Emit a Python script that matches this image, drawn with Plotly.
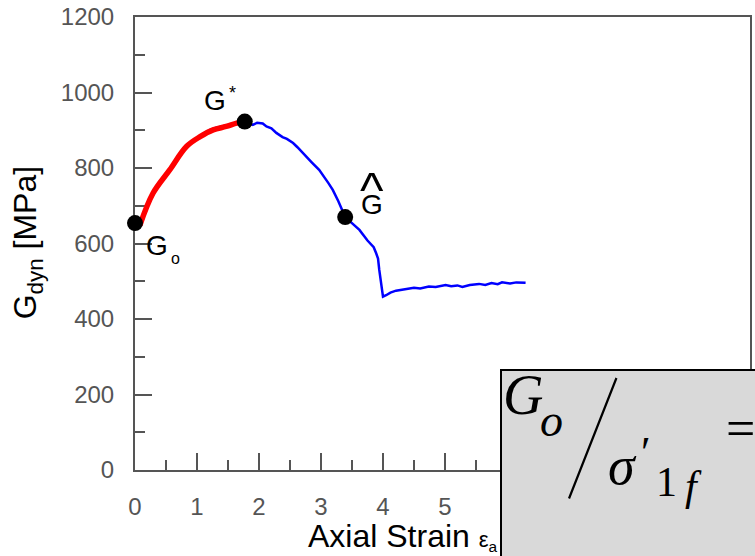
import plotly.graph_objects as go

# ---- data ----
strain_blue = [0.00, 0.08, 0.29, 0.56, 0.83, 1.05, 1.20, 1.30, 1.45, 1.60, 1.77, 1.85, 1.90, 1.97, 2.06,
               2.12, 2.20, 2.28, 2.38, 2.45, 2.55, 2.62, 2.70, 2.76, 2.85, 2.97, 3.05, 3.12, 3.19, 3.28,
               3.39, 3.50, 3.62, 3.75, 3.85, 3.89, 3.92, 3.94, 3.97, 4.00, 4.05, 4.12, 4.21, 4.30, 4.40,
               4.50, 4.60, 4.74, 4.85, 5.01, 5.10, 5.20, 5.28, 5.40, 5.55, 5.65, 5.75, 5.85, 5.92, 6.05,
               6.15, 6.30]
gdyn_blue = [650, 652, 733, 797, 858, 885, 900, 906, 913, 918, 923, 918, 914, 920, 918,
             910, 905, 893, 882, 877, 866, 855, 842, 830, 815, 795, 778, 760, 742, 712,
             670, 653, 636, 608, 590, 574, 560, 530, 490, 459, 463, 470, 475, 478, 480,
             483, 481, 486, 485, 490, 487, 489, 485, 490, 493, 490, 495, 492, 497, 494,
             497, 496]

strain_red = [0.08, 0.29, 0.56, 0.83, 1.05, 1.26, 1.47, 1.64, 1.72]
gdyn_red = [649, 733, 795, 857, 883, 901, 910, 919, 921]

strain_pts = [0.0, 1.77, 3.39]
gdyn_pts = [654, 923, 670]

x_ticks = [0, 1, 2, 3, 4, 5, 6, 7, 8, 9]
y_ticks = [0, 200, 400, 600, 800, 1000, 1200]

# ---- layout geometry (pixels) ----
W, H = 755, 556
L, R, T, B = 135, 3, 17, 86
PW, PH = W - L - R, H - T - B


def px(xp):
    return (xp - L) / PW


def py(yp):
    return (H - B - yp) / PH


SANS = "Liberation Sans, Arial, sans-serif"
SERIF = "Liberation Serif, Times New Roman, serif"
AX = "#555555"

fig = go.Figure()
fig.add_trace(go.Scatter(x=strain_blue, y=gdyn_blue, mode="lines",
                         line=dict(color="#0000ff", width=2.5), hoverinfo="skip"))
fig.add_trace(go.Scatter(x=strain_red, y=gdyn_red, mode="lines",
                         line=dict(color="#ff0000", width=5.5, shape="spline"), hoverinfo="skip"))
fig.add_trace(go.Scatter(x=strain_pts, y=gdyn_pts, mode="markers",
                         marker=dict(color="black", size=16), cliponaxis=False, hoverinfo="skip"))

axis_common = dict(showgrid=False, zeroline=False, showline=True, linecolor=AX, linewidth=2,
                   mirror=True, ticks="inside", tickcolor=AX, tickwidth=2, ticklen=17,
                   layer="below traces",
                   tickfont=dict(family=SANS, size=24, color=AX))

fig.update_xaxes(range=[0, PW / 62.2], tickvals=x_ticks, ticktext=[str(v) for v in x_ticks],
                 minor=dict(dtick=0.5, ticks="inside", ticklen=10, tickwidth=2, tickcolor=AX),
                 ticklabelstandoff=14, **axis_common)
fig.update_yaxes(range=[0, 1200], tickvals=y_ticks, ticktext=[str(v) for v in y_ticks],
                 minor=dict(dtick=100, ticks="inside", ticklen=10, tickwidth=2, tickcolor=AX),
                 ticklabelstandoff=14, **axis_common)

ann = []
# axis titles
ann.append(dict(x=px(307), y=py(536), xref="paper", yref="paper", xanchor="left", yanchor="middle",
                text="Axial Strain <span style='font-size:22px'>ε<sub>a</sub></span>",
                font=dict(family=SANS, size=32, color="black"), showarrow=False))
ann.append(dict(x=px(27), y=py(243), xref="paper", yref="paper", xanchor="center", yanchor="middle",
                text="G<sub>dyn</sub> [MPa]", textangle=-90,
                font=dict(family=SANS, size=32, color="black"), showarrow=False))
# point labels
lab = dict(xref="paper", yref="paper", xanchor="center", yanchor="middle", showarrow=False)
ann.append(dict(x=px(215.5), y=py(100), text="G", font=dict(family=SANS, size=28, color="black"), **lab))
ann.append(dict(x=px(233), y=py(93), text="*", font=dict(family=SANS, size=18, color="black"), **lab))
ann.append(dict(x=px(157), y=py(246), text="G", font=dict(family=SANS, size=28, color="black"), **lab))
ann.append(dict(x=px(176), y=py(258), text="o", font=dict(family=SANS, size=16, color="black"), **lab))
ann.append(dict(x=px(372.5), y=py(204), text="G", font=dict(family=SANS, size=28, color="black"), **lab))
ann.append(dict(x=px(373), y=py(190), text="^", font=dict(family=SANS, size=50, color="black"), **lab))
# grey formula box (drawn over the axis title)
ann.append(dict(x=px(501), y=py(369), xref="paper", yref="paper", xanchor="left", yanchor="top",
                text=" ", width=300, height=250, bgcolor="#d9d9d9", bordercolor="black",
                borderwidth=2, borderpad=0, showarrow=False))
ann.append(dict(x=px(524), y=py(395), text="<i>G</i>", font=dict(family=SERIF, size=56, color="black"), **lab))
ann.append(dict(x=px(553), y=py(420), text="<i>o</i>", font=dict(family=SERIF, size=46, color="black"), **lab))
ann.append(dict(x=px(618), y=py(378), xref="paper", yref="paper", text="", showarrow=True,
                ax=-48, ay=122, arrowhead=0, arrowwidth=2.2, arrowcolor="black",
                standoff=0, startstandoff=0))
ann.append(dict(x=px(624), y=py(466), text="<i>σ</i>", font=dict(family=SERIF, size=54, color="black"), **lab))
ann.append(dict(x=px(648), y=py(452), text="′", font=dict(family=SERIF, size=44, color="black"), **lab))
ann.append(dict(x=px(668), y=py(482), text="1", font=dict(family=SERIF, size=42, color="black"), **lab))
ann.append(dict(x=px(695), y=py(486), text="<i>f</i>", font=dict(family=SERIF, size=42, color="black"), **lab))
ann.append(dict(x=px(742), y=py(428), text="=", font=dict(family=SERIF, size=52, color="black"), **lab))

fig.update_layout(width=W, height=H, margin=dict(l=L, r=R, t=T, b=B, pad=0),
                  paper_bgcolor="white", plot_bgcolor="white", showlegend=False,
                  annotations=ann)

fig.write_html("out.html")
